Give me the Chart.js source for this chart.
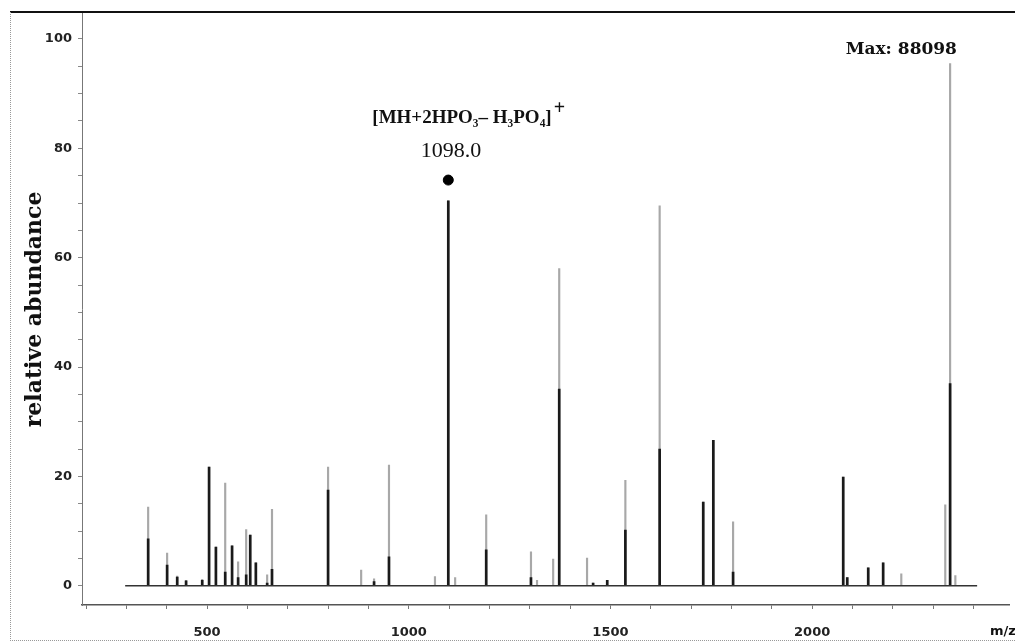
<!DOCTYPE html>
<html>
<head>
<meta charset="utf-8">
<script src="https://cdn.jsdelivr.net/npm/chart.js@4/dist/chart.umd.min.js"></script>
<style>
  html, body { margin: 0; padding: 0; background: #fff; }
  #wrap { width: 1015px; height: 642px; position: relative; }
</style>
</head>
<body>
<div id="wrap"><canvas id="c"></canvas></div>
<script>
// m/z positions of the peaks
const mzValues = [354, 401, 426, 448, 488, 505, 522, 545, 562, 577, 597, 607, 621, 649, 661,
  800, 882, 914, 951, 1065, 1098, 1115, 1192, 1303, 1318, 1358, 1373, 1442, 1457, 1492,
  1537, 1622, 1730, 1755, 1804, 2077, 2087, 2139, 2176, 2221, 2330, 2342, 2355];
// dark (solid) part of each peak, relative abundance
const darkAbundance = [8.6, 3.8, 1.6, 0.9, 1.0, 21.7, 7.1, 2.5, 7.3, 1.5, 2.0, 9.3, 4.2, 0.5, 3.0,
  17.5, 0, 0.8, 5.3, 0, 70.4, 0, 6.6, 1.5, 0, 0, 36, 0, 0.5, 1.0,
  10.2, 25, 15.3, 26.6, 2.5, 19.9, 1.5, 3.3, 4.2, 0, 0, 37, 0];
// full (light) height of each peak, relative abundance
const lightAbundance = [14.4, 6.0, 1.8, 1.0, 1.2, 21.7, 7.1, 18.8, 7.3, 4.4, 10.3, 9.3, 4.2, 2.0, 14.0,
  21.7, 2.9, 1.3, 22.1, 1.7, 70.4, 1.5, 13.0, 6.2, 1.0, 4.9, 58.0, 5.1, 0.5, 1.0,
  19.3, 69.5, 15.3, 26.6, 11.7, 19.9, 1.5, 3.3, 4.2, 2.2, 14.8, 95.5, 1.9];
// labelled peak
const labelledPeak = { mz: 1098, abundance: 74.2, text: "1098.0",
  ion: "[MH+2HPO\u2083\u2013 H\u2083PO\u2084]", charge: "+" };
const maxText = "Max: 88098";
const yTitle = "relative abundance";
const xTitle = "m/z";
const baselineRange = [297, 2409];
const xTickStep = 100, xMajorEvery = 500;
const yTickStep = 5, yMajorEvery = 20;

const darkData = mzValues.map((m, i) => ({ x: m, y: darkAbundance[i] })).filter(p => p.y > 0);
const lightData = mzValues.map((m, i) => ({ x: m, y: lightAbundance[i] }));

function stepTicks(scale, step) {
  const out = [];
  for (let v = Math.ceil(scale.min / step) * step; v <= scale.max + 1e-9; v += step) {
    out.push({ value: Math.round(v) });
  }
  scale.ticks = out;
}

const decor = {
  id: 'decor',
  beforeDraw(chart) {
    const ctx = chart.ctx;
    ctx.save();
    ctx.strokeStyle = '#111';
    ctx.lineWidth = 2;
    ctx.beginPath(); ctx.moveTo(10, 12); ctx.lineTo(1015, 12); ctx.stroke();
    ctx.strokeStyle = '#999';
    ctx.lineWidth = 1;
    ctx.setLineDash([1, 1]);
    ctx.beginPath(); ctx.moveTo(10.5, 12); ctx.lineTo(10.5, 640); ctx.stroke();
    ctx.beginPath(); ctx.moveTo(10, 640.5); ctx.lineTo(1015, 640.5); ctx.stroke();
    ctx.restore();
  },
  afterDraw(chart) {
    const ctx = chart.ctx;
    const xs = chart.scales.x, ys = chart.scales.y;
    ctx.save();
    ctx.fillStyle = '#111';
    ctx.textBaseline = 'middle';
    // ion label
    ctx.font = 'bold 19px "Liberation Serif"';
    ctx.textAlign = 'left';
    const ionW = ctx.measureText(labelledPeak.ion).width;
    const ionLeft = xs.getPixelForValue(1132) - ionW / 2;
    const ionY = ys.getPixelForValue(85.5);
    ctx.fillText(labelledPeak.ion, ionLeft, ionY);
    ctx.font = 'bold 20px "Liberation Serif"';
    ctx.fillText(labelledPeak.charge, ionLeft + ionW + 2, ionY - 9);
    // value label
    ctx.font = '22px "Liberation Serif"';
    ctx.textAlign = 'center';
    ctx.fillText(labelledPeak.text, xs.getPixelForValue(1105), ys.getPixelForValue(79.5));
    // max label
    ctx.font = 'bold 17px "DejaVu Serif"';
    ctx.fillText(maxText, xs.getPixelForValue(2221), ys.getPixelForValue(98.1));
    // x axis title at right end
    ctx.font = 'bold 13px "DejaVu Sans"';
    ctx.textAlign = 'left';
    ctx.fillText(xTitle, 990, 632);
    ctx.restore();
  }
};

new Chart(document.getElementById('c'), {
  type: 'bar',
  data: {
    datasets: [
      { type: 'scatter', data: [{ x: labelledPeak.mz, y: labelledPeak.abundance }],
        pointRadius: 5, pointBackgroundColor: '#000', pointBorderColor: '#000', order: 0 },
      { type: 'line', data: [{ x: baselineRange[0], y: 0 }, { x: baselineRange[1], y: 0 }],
        borderColor: '#333', borderWidth: 1.5, pointRadius: 0, order: 1 },
      { data: darkData, backgroundColor: '#1a1a1a', barThickness: 2, grouped: false, order: 2 },
      { data: lightData, backgroundColor: '#a8a8a8', barThickness: 1.5, grouped: false, order: 3 }
    ]
  },
  options: {
    responsive: true,
    maintainAspectRatio: false,
    animation: false,
    layout: { padding: { left: 0, top: 12, right: 1, bottom: 0 } },
    plugins: { legend: { display: false }, tooltip: { enabled: false } },
    scales: {
      x: {
        type: 'linear', min: 190, max: 2488, offset: false,
        afterFit(s) { s.height = 37; },
        afterBuildTicks(s) { stepTicks(s, xTickStep); },
        ticks: {
          autoSkip: false, maxRotation: 0, padding: 16,
          color: '#222', font: { family: 'DejaVu Sans', size: 13, weight: 'bold' },
          callback: v => (Math.round(v) % xMajorEvery === 0 ? String(Math.round(v)) : '')
        },
        grid: { drawOnChartArea: false, tickLength: 4, color: '#777', offset: false },
        border: { display: true, color: '#555', width: 1.5 }
      },
      y: {
        min: -3.5, max: 104.6,
        afterFit(s) { s.width = 82; },
        afterBuildTicks(s) { stepTicks(s, yTickStep); },
        ticks: {
          autoSkip: false, padding: 6,
          color: '#222', font: { family: 'DejaVu Sans', size: 13, weight: 'bold' },
          callback: v => (Math.round(v) % yMajorEvery === 0 ? String(Math.round(v)) : '')
        },
        grid: { drawOnChartArea: false, tickLength: 4, color: '#888' },
        border: { display: true, color: '#777', width: 1 },
        title: { display: true, text: yTitle, color: '#111',
          font: { family: 'DejaVu Serif', size: 22, weight: 'bold' },
          padding: { top: 22, bottom: 0 } }
      }
    }
  },
  plugins: [decor]
});
</script>
</body>
</html>
